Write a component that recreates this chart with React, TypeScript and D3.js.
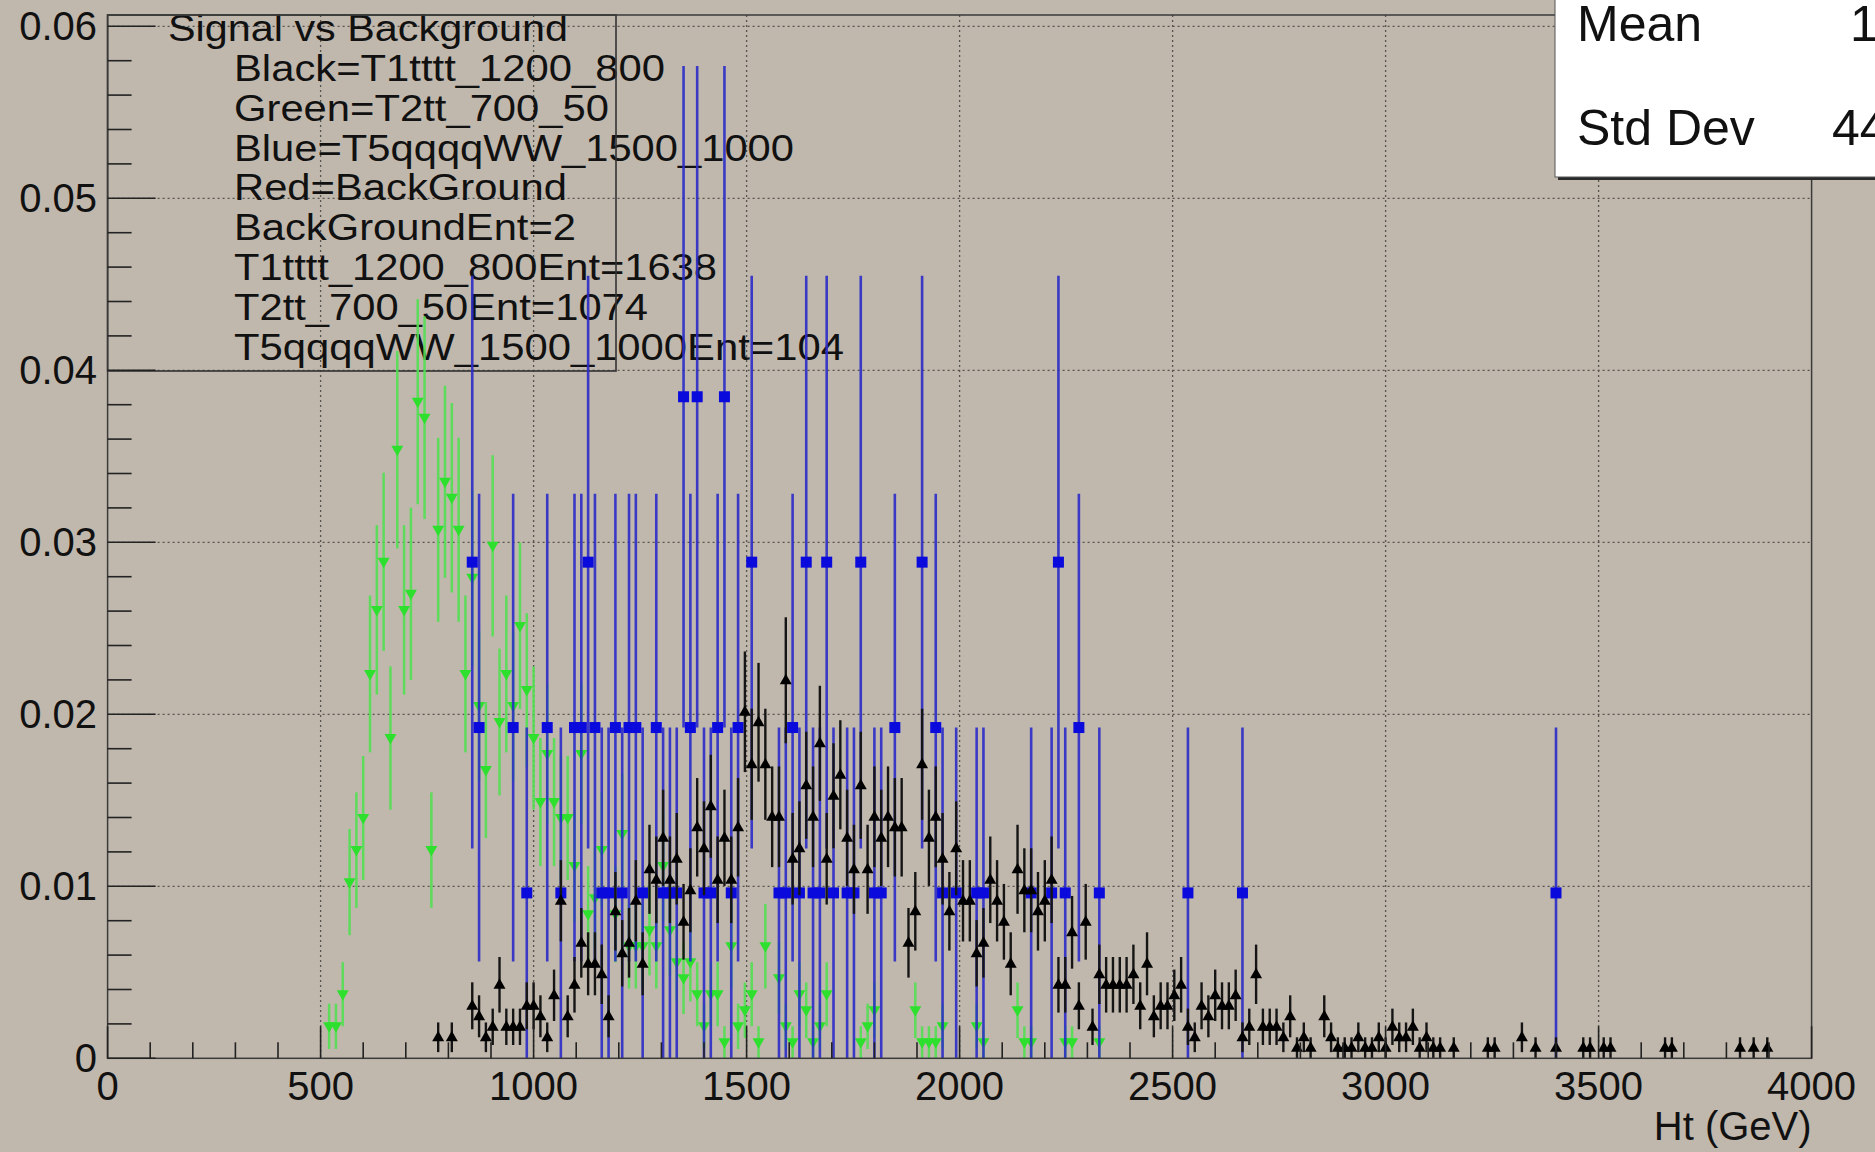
import React from 'react';
import * as d3 from 'd3';

// ---------------- data (bin centres in GeV, bin width 16 GeV; counts per bin) ----------------
const blackName = 'T1tttt_1200_800';
const blackEntries = 1638;
const blackHt = [776, 808, 856, 872, 888, 904, 920, 936, 952, 968, 984, 1000, 1016, 1032, 1048, 1064, 1080, 1096, 1112, 1128, 1144, 1160, 1176, 1192, 1208, 1224, 1240, 1256, 1272, 1288, 1304, 1320, 1336, 1352, 1368, 1384, 1400, 1416, 1432, 1448, 1464, 1480, 1496, 1512, 1528, 1544, 1560, 1576, 1592, 1608, 1624, 1640, 1656, 1672, 1688, 1704, 1720, 1736, 1752, 1768, 1784, 1800, 1816, 1832, 1848, 1864, 1880, 1896, 1912, 1928, 1944, 1960, 1976, 1992, 2008, 2024, 2040, 2056, 2072, 2088, 2104, 2120, 2136, 2152, 2168, 2184, 2200, 2216, 2232, 2248, 2264, 2280, 2296, 2312, 2328, 2344, 2360, 2376, 2392, 2408, 2424, 2440, 2456, 2472, 2488, 2504, 2520, 2536, 2552, 2568, 2584, 2600, 2616, 2632, 2648, 2664, 2680, 2696, 2712, 2728, 2744, 2760, 2776, 2792, 2808, 2824, 2856, 2872, 2888, 2904, 2920, 2936, 2952, 2968, 2984, 3000, 3016, 3032, 3048, 3064, 3080, 3096, 3112, 3128, 3160, 3240, 3256, 3320, 3352, 3400, 3464, 3480, 3512, 3528, 3656, 3672, 3832, 3864, 3896];
const blackCounts = [2, 2, 5, 4, 2, 3, 7, 3, 3, 3, 5, 5, 4, 2, 6, 15, 4, 7, 11, 9, 9, 8, 4, 14, 10, 11, 15, 9, 18, 17, 21, 17, 19, 13, 16, 22, 20, 24, 17, 21, 17, 22, 33, 28, 32, 28, 23, 23, 36, 19, 20, 26, 23, 30, 19, 25, 27, 21, 18, 26, 18, 23, 21, 23, 22, 22, 11, 14, 28, 21, 23, 19, 14, 20, 15, 15, 10, 11, 17, 15, 13, 9, 18, 16, 16, 14, 15, 17, 7, 7, 12, 5, 13, 3, 8, 7, 7, 7, 7, 8, 5, 9, 4, 5, 5, 6, 7, 3, 2, 5, 4, 6, 5, 5, 6, 2, 3, 8, 3, 3, 3, 2, 4, 1, 2, 1, 4, 2, 1, 1, 1, 2, 1, 1, 2, 1, 3, 2, 2, 3, 1, 2, 1, 1, 1, 1, 1, 2, 1, 1, 1, 1, 1, 1, 1, 1, 1, 1, 1];

const greenName = 'T2tt_700_50';
const greenEntries = 1074;
const greenHt = [520, 536, 552, 568, 584, 600, 616, 632, 648, 664, 680, 696, 712, 728, 744, 760, 776, 792, 808, 824, 840, 856, 872, 888, 904, 920, 936, 952, 968, 984, 1000, 1016, 1032, 1048, 1064, 1080, 1096, 1112, 1128, 1144, 1160, 1192, 1208, 1224, 1240, 1256, 1272, 1288, 1304, 1320, 1336, 1352, 1368, 1384, 1400, 1416, 1432, 1448, 1464, 1480, 1496, 1512, 1528, 1544, 1576, 1592, 1608, 1624, 1640, 1656, 1672, 1688, 1768, 1784, 1800, 1896, 1912, 1928, 1944, 1960, 2040, 2056, 2136, 2152, 2168, 2248, 2264, 2328];
const greenCounts = [2, 2, 4, 11, 13, 15, 24, 28, 31, 20, 38, 28, 29, 41, 40, 13, 33, 36, 35, 33, 24, 30, 22, 18, 32, 21, 24, 22, 27, 23, 20, 16, 19, 16, 15, 15, 12, 19, 9, 10, 13, 9, 14, 7, 7, 7, 8, 7, 12, 8, 6, 5, 6, 4, 2, 4, 4, 1, 7, 2, 3, 4, 1, 7, 5, 2, 1, 4, 3, 1, 2, 4, 1, 2, 3, 3, 1, 1, 1, 2, 2, 1, 3, 1, 1, 1, 1, 1];

const blueName = 'T5qqqqWW_1500_1000';
const blueEntries = 104;
const blueHt = [856, 872, 952, 984, 1032, 1064, 1096, 1112, 1128, 1144, 1160, 1176, 1192, 1208, 1224, 1240, 1256, 1288, 1304, 1320, 1336, 1352, 1368, 1384, 1400, 1416, 1432, 1448, 1464, 1480, 1512, 1576, 1592, 1608, 1624, 1640, 1656, 1672, 1688, 1704, 1736, 1752, 1768, 1800, 1816, 1848, 1912, 1944, 1960, 1992, 2040, 2056, 2168, 2216, 2232, 2248, 2280, 2328, 2536, 2664, 3400];
const blueCounts = [3, 2, 2, 1, 2, 1, 2, 2, 3, 2, 1, 1, 2, 1, 2, 2, 1, 2, 1, 1, 1, 4, 2, 4, 1, 1, 2, 4, 1, 2, 3, 1, 1, 2, 1, 3, 1, 1, 3, 1, 1, 1, 3, 1, 1, 2, 3, 2, 1, 1, 1, 1, 1, 1, 3, 1, 2, 1, 1, 1, 1];

const xMajorTicks = [0, 500, 1000, 1500, 2000, 2500, 3000, 3500, 4000];
const yMajorTicks = [0, 0.01, 0.02, 0.03, 0.04, 0.05, 0.06];
const legendTitle = 'Signal vs Background';
const legendLines = [
  'Black=T1tttt_1200_800',
  'Green=T2tt_700_50',
  'Blue=T5qqqqWW_1500_1000',
  'Red=BackGround',
  'BackGroundEnt=2',
  'T1tttt_1200_800Ent=1638',
  'T2tt_700_50Ent=1074',
  'T5qqqqWW_1500_1000Ent=104',
];
const legendWidths = [431, 375, 560, 333, 342, 483, 414, 610];
const statsLabels = ['Mean', 'Std Dev'];
const statsValues = ['1805', '443.2'];
const xTitle = 'Ht (GeV)';

// ---------------- layout ----------------
const W = 1875;
const H = 1152;
const FONT = '"Liberation Sans", Arial, Helvetica, sans-serif';
const BG = '#c1b8ad';
const X0 = 107.6, X1 = 1811.6, Y0 = 1058.3, YTOP = 15;
const Y_MAX = (Y0 - YTOP) / 17200;

type Pt = { ht: number; v: number; e: number };
function makeSeries(ht: number[], counts: number[], n: number): Pt[] {
  return ht.map((h, i) => ({ ht: h, v: counts[i] / n, e: Math.sqrt(counts[i]) / n }));
}

export default function App() {
  const x = d3.scaleLinear().domain([0, 4000]).range([X0, X1]);
  const y = d3.scaleLinear().domain([0, Y_MAX]).range([Y0, YTOP]);

  const black = makeSeries(blackHt, blackCounts, blackEntries);
  const green = makeSeries(greenHt, greenCounts, greenEntries);
  const blue = makeSeries(blueHt, blueCounts, blueEntries);

  const xMinor = d3.range(0, 4001, 100).filter((v) => v % 500 !== 0);
  const yMinor = d3.range(0, 31).map((i) => i * 0.002).filter((v, i) => i % 5 !== 0 && v <= Y_MAX);

  const yLabel = (v: number) => (v === 0 ? '0' : v.toFixed(2));

  return (
    <svg
      width={W}
      height={H}
      style={{ position: 'absolute', left: 0, top: 0, background: BG }}
      fontFamily={FONT}
    >
      <rect x={0} y={0} width={W} height={H} fill={BG} />

      {/* grid */}
      <g stroke="#2a2a2a" strokeWidth={1.3} strokeDasharray="2,3" opacity={0.7}>
        {xMajorTicks.filter((t) => t > 0 && t < 4000).map((t) => (
          <line key={'gx' + t} x1={x(t)} x2={x(t)} y1={YTOP} y2={Y0} />
        ))}
        {yMajorTicks.filter((t) => t > 0).map((t) => (
          <line key={'gy' + t} x1={X0} x2={X1} y1={y(t)} y2={y(t)} />
        ))}
      </g>

      {/* legend */}
      <g fill="#111" fontSize={37}>
        <text x={168} y={40.5} textLength={400} lengthAdjust="spacingAndGlyphs">{legendTitle}</text>
        {legendLines.map((s, i) => (
          <text key={s} x={234} y={81 + 39.8 * i} textLength={legendWidths[i]} lengthAdjust="spacingAndGlyphs">
            {s}
          </text>
        ))}
      </g>
      <rect x={X0} y={YTOP} width={616 - X0} height={371 - YTOP} fill="none" stroke="#333" strokeWidth={1.6} />

      {/* green series: error bars + down triangles */}
      <g>
        {green.map((p, i) => (
          <line key={'ge' + i} x1={x(p.ht)} x2={x(p.ht)} y1={y(Math.max(0, p.v - p.e))} y2={y(p.v + p.e)}
            stroke="#52e052" strokeWidth={2.5} opacity={0.9} />
        ))}
        {green.map((p, i) => {
          const cx = x(p.ht), cy = y(p.v);
          return <path key={'gm' + i} d={`M${cx - 6},${cy - 4}L${cx + 6},${cy - 4}L${cx},${cy + 6.5}Z`} fill="#2ee02e" />;
        })}
      </g>

      {/* blue series: error bars + squares */}
      <g>
        {blue.map((p, i) => (
          <line key={'be' + i} x1={x(p.ht)} x2={x(p.ht)} y1={y(Math.max(0, p.v - p.e))} y2={y(p.v + p.e)}
            stroke="#2c2cc8" strokeWidth={2.6} opacity={0.9} />
        ))}
        {blue.map((p, i) => (
          <rect key={'bm' + i} x={x(p.ht) - 5.5} y={y(p.v) - 5.5} width={11} height={11} fill="#0a0adc" />
        ))}
      </g>

      {/* black series: error bars + up triangles */}
      <g>
        {black.map((p, i) => (
          <line key={'ke' + i} x1={x(p.ht)} x2={x(p.ht)} y1={y(Math.max(0, p.v - p.e))} y2={y(p.v + p.e)}
            stroke="#151515" strokeWidth={2.4} />
        ))}
        {black.map((p, i) => {
          const cx = x(p.ht), cy = y(p.v);
          return <path key={'km' + i} d={`M${cx},${cy - 6.5}L${cx - 6},${cy + 4}L${cx + 6},${cy + 4}Z`} fill="#000" />;
        })}
      </g>

      {/* frame */}
      <rect x={X0} y={YTOP} width={X1 - X0} height={Y0 - YTOP} fill="none" stroke="#3a3a3a" strokeWidth={1.5} />

      {/* y ticks */}
      <g stroke="#222" strokeWidth={1.6}>
        {yMajorTicks.map((t) => (
          <line key={'yt' + t} x1={X0} x2={X0 + 48} y1={y(t)} y2={y(t)} />
        ))}
        {yMinor.map((t) => (
          <line key={'ym' + t} x1={X0} x2={X0 + 24} y1={y(t)} y2={y(t)} />
        ))}
      </g>
      {/* x ticks */}
      <g stroke="#222" strokeWidth={1.6}>
        {xMajorTicks.map((t) => (
          <line key={'xt' + t} x1={x(t)} x2={x(t)} y1={Y0} y2={Y0 - 32} />
        ))}
        {xMinor.map((t) => (
          <line key={'xm' + t} x1={x(t)} x2={x(t)} y1={Y0} y2={Y0 - 16} />
        ))}
      </g>

      {/* tick labels */}
      <g fill="#111" fontSize={40}>
        {yMajorTicks.map((t) => (
          <text key={'yl' + t} x={97} y={y(t) + 14} textAnchor="end">{yLabel(t)}</text>
        ))}
        {xMajorTicks.map((t) => (
          <text key={'xl' + t} x={x(t)} y={1100} textAnchor="middle">{String(t)}</text>
        ))}
        <text x={X1} y={1140} textAnchor="end">{xTitle}</text>
      </g>

      {/* stats box */}
      <rect x={1558} y={-5} width={330} height={185} fill="#2a2a2a" />
      <rect x={1555} y={-5} width={330} height={182} fill="#ffffff" stroke="#555" strokeWidth={1} />
      <g fill="#111" fontSize={50}>
        <text x={1577} y={41}>{statsLabels[0]}</text>
        <text x={1850} y={41}>{statsValues[0]}</text>
        <text x={1577} y={145}>{statsLabels[1]}</text>
        <text x={1832} y={145}>{statsValues[1]}</text>
      </g>
    </svg>
  );
}
